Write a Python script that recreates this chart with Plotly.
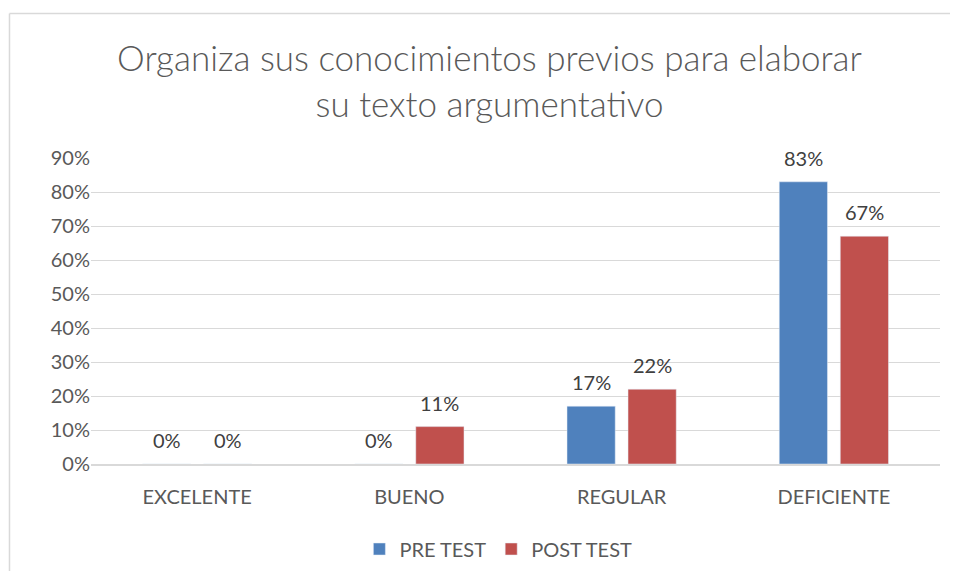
import plotly.graph_objects as go

categories = ["EXCELENTE", "BUENO", "REGULAR", "DEFICIENTE"]
pre_test = [0, 0, 0.17, 0.83]
post_test = [0, 0.11, 0.22, 0.67]
tick_vals = [0, 0.1, 0.2, 0.3, 0.4, 0.5, 0.6, 0.7, 0.8, 0.9]
tick_text = ["0%", "10%", "20%", "30%", "40%", "50%", "60%", "70%", "80%", "90%"]

FONT = "Lato"
W, H = 942, 563
fig = go.Figure()
fig.add_trace(go.Bar(name="PRE TEST", x=categories, y=pre_test, marker_color="#4F81BD"))
fig.add_trace(go.Bar(name="POST TEST", x=categories, y=post_test, marker_color="#C0504D"))

annotations = []
for vals, shift in ((pre_test, -30.5), (post_test, 30.5)):
    for c, v in zip(categories, vals):
        annotations.append(dict(x=c, y=v, xref="x", yref="y", text=f"{v*100:.0f}%",
                                showarrow=False, xshift=shift, yshift=24, yanchor="middle",
                                font=dict(size=20, color="#404040", family=FONT)))

border = dict(color="#D9D9D9", width=1.5)
fig.update_layout(
    width=W, height=H,
    margin=dict(l=83, r=10, t=150, b=107),
    paper_bgcolor="white", plot_bgcolor="white",
    font=dict(family=FONT, color="#595959", size=20),
    title=dict(text="Organiza sus conocimientos previos para elaborar<br>su texto argumentativo",
               x=481.5 / W, xanchor="center", yref="container", y=1 - 63 / H, yanchor="middle",
               font=dict(size=35, color="#595959", family=FONT, weight=300)),
    barmode="group", bargap=0.425, bargroupgap=0.21,
    legend=dict(orientation="h", x=452 / W, xanchor="center", yref="container", y=1 - 541 / H,
                yanchor="middle", font=dict(size=20, color="#595959", family=FONT)),
    xaxis=dict(showline=True, linecolor="#D9D9D9", linewidth=1.5, ticks="",
               tickfont=dict(size=20), ticklabelstandoff=14),
    yaxis=dict(range=[0, 0.9], tickvals=tick_vals, ticktext=tick_text, showgrid=True,
               gridcolor="#D9D9D9", gridwidth=1.2, zeroline=False, tickfont=dict(size=20), ticklen=0),
    annotations=annotations,
    shapes=[dict(type="line", xref="paper", yref="paper", x0=-0.096, x1=-0.096, y0=-0.8, y1=1.472,
                 line=border),
            dict(type="line", xref="paper", yref="paper", x0=-0.096, x1=1.3, y0=1.472, y1=1.472,
                 line=border)],
)

fig.write_html("out.html")
